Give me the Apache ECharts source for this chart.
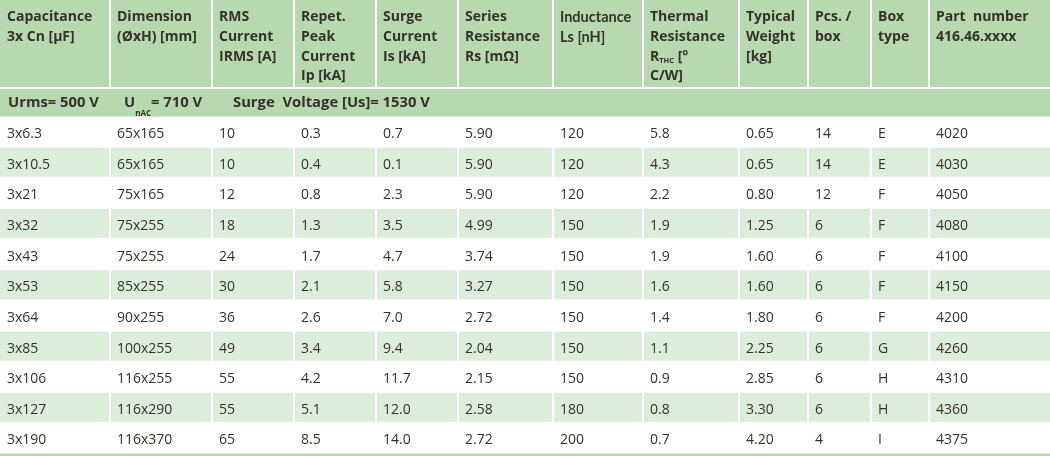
<!DOCTYPE html>
<html>
<head>
<meta charset="utf-8">
<script src="https://cdn.jsdelivr.net/npm/echarts@6/dist/echarts.min.js"></script>
<style>
  html, body { margin: 0; padding: 0; background: #fff; }
  #main { width: 1050px; height: 456px; }
</style>
</head>
<body>
<div id="main"></div>
<script>
// table values, one array per column
const capacitance = ['3x6.3', '3x10.5', '3x21', '3x32', '3x43', '3x53', '3x64', '3x85', '3x106', '3x127', '3x190'];
const dimension = ['65x165', '65x165', '75x165', '75x255', '75x255', '85x255', '90x255', '100x255', '116x255', '116x290', '116x370'];
const rmsCurrent = ['10', '10', '12', '18', '24', '30', '36', '49', '55', '55', '65'];
const peakCurrent = ['0.3', '0.4', '0.8', '1.3', '1.7', '2.1', '2.6', '3.4', '4.2', '5.1', '8.5'];
const surgeCurrent = ['0.7', '0.1', '2.3', '3.5', '4.7', '5.8', '7.0', '9.4', '11.7', '12.0', '14.0'];
const seriesRes = ['5.90', '5.90', '5.90', '4.99', '3.74', '3.27', '2.72', '2.04', '2.15', '2.58', '2.72'];
const inductance = ['120', '120', '120', '150', '150', '150', '150', '150', '150', '180', '200'];
const thermalRes = ['5.8', '4.3', '2.2', '1.9', '1.9', '1.6', '1.4', '1.1', '0.9', '0.8', '0.7'];
const weight = ['0.65', '0.65', '0.80', '1.25', '1.60', '1.60', '1.80', '2.25', '2.85', '3.30', '4.20'];
const pcsPerBox = ['14', '14', '12', '6', '6', '6', '6', '6', '6', '6', '4'];
const boxType = ['E', 'E', 'F', 'F', 'F', 'F', 'F', 'G', 'H', 'H', 'I'];
const partNumber = ['4020', '4030', '4050', '4080', '4100', '4150', '4200', '4260', '4310', '4360', '4375'];

const columns = [capacitance, dimension, rmsCurrent, peakCurrent, surgeCurrent, seriesRes,
                 inductance, thermalRes, weight, pcsPerBox, boxType, partNumber];

// header texts
const headers = [
  'Capacitance\n3x Cn [µF]',
  'Dimension\n(ØxH) [mm]',
  'RMS\nCurrent\nIRMS [A]',
  'Repet.\nPeak\nCurrent\nIp [kA]',
  'Surge\nCurrent\nIs [kA]',
  'Series\nResistance\nRs [mΩ]',
  '{n|Inductance}\n{n|Ls [nH]}',
  'Thermal\nResistance\nR{sub|THC} [°\nC/W]',
  'Typical\nWeight\n[kg]',
  'Pcs. /\nbox',
  'Box\ntype',
  'Part  number\n416.46.xxxx'
];
const ratingTexts = ['Urms= 500 V', 'U{sub|nAC}= 710 V', 'Surge  Voltage [Us]= 1530 V'];

// layout
const colEdges = [0, 110, 212, 294, 376, 458, 553, 643, 739, 808, 871, 929, 1050];
const ratingX = [8, 124, 233];
const headerBottom = 87;
const ratingTop = 89, ratingBottom = 116.5;
const rowTop0 = 117, rowH = 30.65;
const headGreen = '#b8d8b0', rowGreen = '#ddeddb', ink = '#36312c';
const FONT = '"Open Sans", "DejaVu Sans", sans-serif';

// cell items: [col, row, part]; row -2 header, -1 ratings line, 0..10 data, 11 bottom rule
const cells = [];
headers.forEach(function (h, c) { cells.push([c, -2, 0]); });
ratingTexts.forEach(function (t, i) { cells.push([0, -1, i]); });
columns.forEach(function (col, c) {
  col.forEach(function (v, r) { cells.push([c, r, 0]); });
});
cells.push([0, columns[0].length, 0]);

function renderCell(params, api) {
  const c = api.value(0), r = api.value(1), part = api.value(2);
  const p0 = api.coord([0, 0]);
  const x0 = api.coord([colEdges[c], 0])[0];
  const x1 = api.coord([colEdges[c + 1], 0])[0];
  const gl = c === 0 ? 0 : 1, gr = c === colEdges.length - 2 ? 0 : 1;
  const children = [];

  if (r === -2) {
    const yb = api.coord([0, headerBottom])[1];
    children.push({ type: 'rect', shape: { x: x0 + gl, y: p0[1], width: x1 - x0 - gl - gr, height: yb - p0[1] },
      style: { fill: headGreen } });
    children.push({ type: 'text', x: x0 + 7, y: api.coord([0, 7.5])[1],
      style: { text: headers[c], fill: ink, font: 'bold 14px ' + FONT, lineHeight: 19.7,
        verticalAlign: 'top', align: 'left',
        rich: {
          n: { fontWeight: 'bold', fontSize: 14.5, fontFamily: 'Lato, sans-serif', fill: ink, lineHeight: 19.7 },
          sub: { fontWeight: 'bold', fontSize: 7.5, fontFamily: FONT, fill: ink, lineHeight: 11.7, padding: [8, 0, 0, 0] }
        } } });
  } else if (r === -1) {
    const yt = api.coord([0, ratingTop])[1], yb = api.coord([0, ratingBottom])[1];
    if (part === 0) {
      children.push({ type: 'rect', shape: { x: p0[0], y: yt, width: api.coord([1050, 0])[0] - p0[0], height: yb - yt },
        style: { fill: headGreen } });
    }
    children.push({ type: 'text', x: api.coord([ratingX[part], 0])[0], y: (yt + yb) / 2,
      style: { text: ratingTexts[part], fill: ink, font: 'bold 14.8px ' + FONT,
        verticalAlign: 'middle', align: 'left',
        rich: {
          sub: { fontWeight: 'bold', fontSize: 8, fontFamily: FONT, fill: ink, lineHeight: 10, padding: [21, 0, 0, 0] }
        } } });
  } else if (r === columns[0].length) {
    const yt = api.coord([0, 453.5])[1], yb = api.coord([0, 456])[1];
    children.push({ type: 'rect', shape: { x: p0[0], y: yt, width: api.coord([1050, 0])[0] - p0[0], height: yb - yt },
      style: { fill: headGreen } });
  } else {
    const yt = api.coord([0, rowTop0 + r * rowH])[1];
    const yb = api.coord([0, rowTop0 + (r + 1) * rowH - 1.5])[1];
    if (r % 2 === 1) {
      children.push({ type: 'rect', shape: { x: x0 + gl, y: yt, width: x1 - x0 - gl - gr, height: yb - yt },
        style: { fill: rowGreen } });
    }
    children.push({ type: 'text', x: x0 + 7, y: yt + 17,
      style: { text: columns[c][r], fill: ink, font: '14px ' + FONT, verticalAlign: 'middle', align: 'left' } });
  }
  return { type: 'group', children: children };
}

const chart = echarts.init(document.getElementById('main'));
chart.setOption({
  animation: false,
  backgroundColor: '#ffffff',
  grid: { left: 0, right: 0, top: 0, bottom: 0 },
  xAxis: { type: 'value', min: 0, max: 1050, show: false },
  yAxis: { type: 'value', min: 0, max: 456, inverse: true, show: false },
  series: [{
    type: 'custom',
    renderItem: renderCell,
    data: cells,
    clip: false,
    silent: true
  }]
});
</script>
</body>
</html>
